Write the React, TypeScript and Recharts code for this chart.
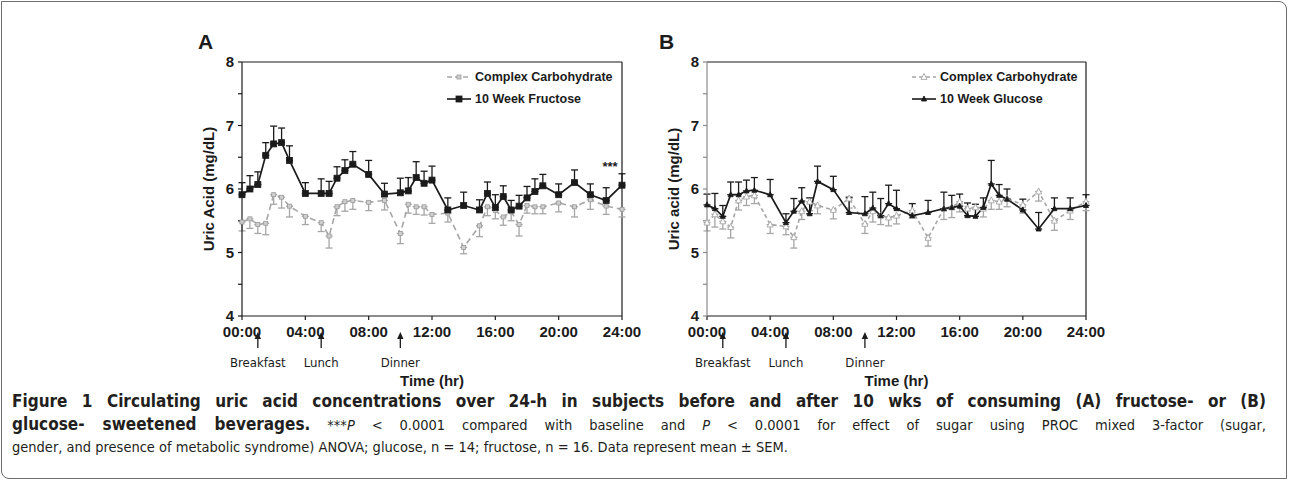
import React from 'react';
import { LineChart, Line, XAxis, YAxis, ErrorBar, ReferenceLine, Legend, LabelList } from 'recharts';

// sampling times (hours after 00:00)
const hours = [0, 0.5, 1, 1.5, 2, 2.5, 3, 4, 5, 5.5, 6, 6.5, 7, 8, 9, 10, 10.5, 11, 11.5, 12, 13, 14, 15, 15.5, 16, 16.5, 17, 17.5, 18, 18.5, 19, 20, 21, 22, 23, 24];

// panel A
const carbA = [5.48, 5.53, 5.44, 5.46, 5.91, 5.87, 5.73, 5.57, 5.47, 5.26, 5.72, 5.8, 5.82, 5.79, 5.82, 5.3, 5.76, 5.72, 5.72, 5.6, 5.62, 5.08, 5.42, 5.72, 5.66, 5.56, 5.64, 5.44, 5.74, 5.72, 5.72, 5.78, 5.72, 5.83, 5.73, 5.68];
const carbASem = [0.14, 0.15, 0.14, 0.18, 0.15, 0.17, 0.17, 0.13, 0.14, 0.19, 0.14, 0.15, 0.14, 0.13, 0.15, 0.16, 0.14, 0.12, 0.13, 0.14, 0.14, 0.1, 0.17, 0.14, 0.13, 0.13, 0.14, 0.18, 0.12, 0.11, 0.11, 0.14, 0.16, 0.15, 0.13, 0.12];
const fructose = [5.91, 6.0, 6.07, 6.53, 6.71, 6.73, 6.45, 5.93, 5.93, 5.93, 6.17, 6.29, 6.39, 6.23, 5.92, 5.94, 5.97, 6.18, 6.09, 6.14, 5.67, 5.74, 5.67, 5.93, 5.71, 5.88, 5.67, 5.73, 5.86, 5.96, 6.05, 5.91, 6.1, 5.91, 5.82, 6.06];
const fructoseSem = [0.19, 0.21, 0.2, 0.2, 0.28, 0.23, 0.23, 0.17, 0.23, 0.19, 0.18, 0.17, 0.2, 0.22, 0.17, 0.23, 0.21, 0.25, 0.19, 0.22, 0.19, 0.21, 0.16, 0.18, 0.2, 0.17, 0.15, 0.17, 0.18, 0.2, 0.18, 0.17, 0.2, 0.17, 0.2, 0.18];

// panel B
const carbB = [5.47, 5.6, 5.49, 5.4, 5.82, 5.88, 5.9, 5.44, 5.41, 5.24, 5.65, 5.8, 5.74, 5.67, 5.85, 5.45, 5.65, 5.58, 5.55, 5.58, 5.66, 5.23, 5.69, 5.71, 5.8, 5.69, 5.71, 5.69, 5.82, 5.8, 5.85, 5.75, 5.96, 5.5, 5.66, 5.8];
const carbBSem = [0.13, 0.2, 0.12, 0.17, 0.15, 0.14, 0.13, 0.14, 0.13, 0.17, 0.13, 0.14, 0.13, 0.14, 0.15, 0.15, 0.17, 0.14, 0.13, 0.13, 0.12, 0.13, 0.17, 0.16, 0.16, 0.13, 0.14, 0.13, 0.14, 0.12, 0.13, 0.13, 0.15, 0.15, 0.14, 0.14];
const glucose = [5.75, 5.69, 5.57, 5.91, 5.91, 5.97, 5.98, 5.91, 5.47, 5.65, 5.81, 5.61, 6.12, 5.99, 5.63, 5.61, 5.7, 5.58, 5.77, 5.69, 5.58, 5.63, 5.69, 5.71, 5.73, 5.58, 5.57, 5.71, 6.08, 5.9, 5.84, 5.67, 5.37, 5.69, 5.69, 5.74];
const glucoseSem = [0.17, 0.24, 0.17, 0.2, 0.2, 0.17, 0.2, 0.24, 0.14, 0.2, 0.21, 0.25, 0.24, 0.21, 0.24, 0.27, 0.25, 0.27, 0.29, 0.29, 0.19, 0.19, 0.26, 0.19, 0.19, 0.2, 0.19, 0.15, 0.37, 0.17, 0.16, 0.17, 0.26, 0.17, 0.17, 0.17];

const timeTicks = [0, 4, 8, 12, 16, 20, 24];
const yTicks = [4, 4.5, 5, 5.5, 6, 6.5, 7, 7.5, 8];
const mealHours = [1, 5, 10];
const mealNames = ['Breakfast', 'Lunch', 'Dinner'];

const FONT = '"Liberation Sans", Arial, Helvetica, sans-serif';
const NARROW = '"DejaVu Sans Condensed", "Liberation Sans", sans-serif';
const INK = '#1b1b1b';
const GREY = '#a6a6a6';

const fmtHour = (v: number) => `${String(v).padStart(2, '0')}:00`;

function squareDot(size: number, fill: string, stroke: string) {
  return (p: any) => {
    const { cx, cy, index } = p;
    if (cx == null || cy == null) return <g key={index} />;
    return <rect key={index} x={cx - size / 2} y={cy - size / 2} width={size} height={size} fill={fill} stroke={stroke} strokeWidth={0.8} />;
  };
}

function triangleDot(size: number, fill: string, stroke: string) {
  return (p: any) => {
    const { cx, cy, index } = p;
    if (cx == null || cy == null) return <g key={index} />;
    const pts = `${cx},${cy - size * 0.6} ${cx - size / 2},${cy + size * 0.4} ${cx + size / 2},${cy + size * 0.4}`;
    return <polygon key={index} points={pts} fill={fill} stroke={stroke} strokeWidth={0.9} />;
  };
}

function MealTick(props: any) {
  const { x, y, payload } = props;
  const i = mealHours.indexOf(payload.value);
  return (
    <g transform={`translate(${x},${y})`}>
      <line x1={0} y1={-2} x2={0} y2={8} stroke={INK} strokeWidth={1.3} />
      <polygon points="0,-8 -3.2,-1 3.2,-1" fill={INK} />
      <text x={0} y={27} textAnchor="middle" fontSize={13} fontFamily={NARROW} fill={INK}>
        {mealNames[i]}
      </text>
    </g>
  );
}

interface PanelProps {
  letter: string;
  yLabel: string;
  ctrl: number[];
  ctrlSem: number[];
  sugar: number[];
  sugarSem: number[];
  sugarName: string;
  triangles: boolean;
  left: number;
  stars: boolean;
  yAxisColor: string;
}

function Panel(p: PanelProps) {
  const rows = hours.map((t, i) => ({
    t,
    ctrl: p.ctrl[i],
    ctrlErr: [p.ctrlSem[i], 0],
    sugar: p.sugar[i],
    sugarErr: [0, p.sugarSem[i]],
  }));
  const ctrlDot = p.triangles ? triangleDot(6, '#fff', GREY) : squareDot(4, '#cfcfcf', '#9a9a9a');
  const sugarDot = p.triangles ? triangleDot(5, INK, INK) : squareDot(6, INK, INK);

  const legendContent = () => (
    <div style={{ fontFamily: FONT, fontWeight: 'bold', fontSize: 12.5, color: INK }}>
      {[
        { name: 'Complex Carbohydrate', color: GREY, dash: p.triangles ? '4 3' : '5 3', dot: ctrlDot },
        { name: p.sugarName, color: INK, dash: undefined, dot: sugarDot },
      ].map((e) => (
        <div key={e.name} style={{ display: 'flex', alignItems: 'center', height: 22, whiteSpace: 'nowrap' }}>
          <svg width={26} height={12} style={{ marginRight: 2 }}>
            <line x1={0} y1={6} x2={24} y2={6} stroke={e.color} strokeWidth={1.6} strokeDasharray={e.dash} />
            {e.dot({ cx: 12, cy: 6, index: 0 })}
          </svg>
          <span>{e.name}</span>
        </div>
      ))}
    </div>
  );

  return (
    <div style={{ position: 'absolute', left: p.left, top: 30 }}>
      <LineChart width={500} height={360} data={rows} margin={{ top: 32, right: p.left > 300 ? 29 : 28, bottom: 0, left: 42 }}>
        <XAxis
          xAxisId="a_time"
          dataKey="t"
          type="number"
          domain={[0, 24]}
          ticks={timeTicks}
          tickFormatter={fmtHour}
          height={24}
          tickSize={4}
          tickMargin={6}
          interval={0}
          stroke={INK}
          strokeWidth={1.2}
          tick={{ fontSize: 15, fontWeight: 'bold', fill: INK, fontFamily: FONT }}
        />
        <XAxis
          xAxisId="b_meal"
          dataKey="t"
          type="number"
          domain={[0, 24]}
          ticks={mealHours}
          height={50}
          tickSize={0}
          tickMargin={0}
          interval={0}
          axisLine={false}
          tickLine={false}
          tick={<MealTick />}
          label={{
            content: (lp: any) => {
              const vb = lp.viewBox;
              return (
                <text x={vb.x + vb.width / 2} y={vb.y + 46} textAnchor="middle" fontSize={15} fontWeight="bold" fontFamily={FONT} fill={INK}>
                  Time (hr)
                </text>
              );
            },
          }}
        />
        <YAxis
          domain={[4, 8]}
          ticks={yTicks}
          interval={0}
          width={50}
          tickSize={4}
          tickMargin={4}
          stroke={p.yAxisColor}
          strokeWidth={1.2}
          tickFormatter={(v: number) => (Number.isInteger(v) ? String(v) : '')}
          tick={{ fontSize: 15, fontWeight: 'bold', fill: INK, fontFamily: FONT }}
          label={{
            content: (lp: any) => {
              const vb = lp.viewBox;
              const cx = vb.x + 16;
              const cy = vb.y + vb.height / 2;
              return (
                <text x={cx} y={cy} transform={`rotate(-90 ${cx} ${cy})`} textAnchor="middle" dominantBaseline="central" fontSize={15} fontWeight="bold" fontFamily={FONT} fill={INK}>
                  {p.yLabel}
                </text>
              );
            },
          }}
        />
        <ReferenceLine xAxisId="a_time" y={8} stroke={INK} strokeWidth={1.2} />
        <ReferenceLine xAxisId="a_time" x={24} stroke={INK} strokeWidth={1.2} />
        <Legend
          layout="horizontal"
          verticalAlign="middle"
          align="center"
          content={legendContent}
          wrapperStyle={{ top: 36, left: 297, width: 200, height: 44 }}
        />
        <Line
          xAxisId="a_time"
          dataKey="ctrl"
          name="Complex Carbohydrate"
          stroke={GREY}
          strokeWidth={1.6}
          strokeDasharray={p.triangles ? '4 3' : '6 4'}
          dot={ctrlDot}
          activeDot={false}
          isAnimationActive={false}
        >
          <ErrorBar dataKey="ctrlErr" direction="y" width={3.5} stroke={GREY} strokeWidth={1.3} />
        </Line>
        <Line
          xAxisId="a_time"
          dataKey="sugar"
          name={p.sugarName}
          stroke={INK}
          strokeWidth={1.7}
          dot={sugarDot}
          activeDot={false}
          isAnimationActive={false}
        >
          <ErrorBar dataKey="sugarErr" direction="y" width={3.5} stroke={INK} strokeWidth={1.3} />
          {p.stars && (
            <LabelList
              dataKey="sugar"
              content={(lp: any) =>
                lp.index === hours.length - 1 ? (
                  <text x={lp.x - 12} y={lp.y - 14} textAnchor="middle" fontSize={13} fontWeight="bold" fontFamily={FONT} fill={INK}>
                    ***
                  </text>
                ) : null
              }
            />
          )}
        </Line>
      </LineChart>
      <div style={{ position: 'absolute', left: p.left > 300 ? 44 : 48, top: 0, fontFamily: FONT, fontWeight: 'bold', fontSize: 21, color: INK }}>
        {p.letter}
      </div>
    </div>
  );
}

export default function App() {
  const cap: React.CSSProperties = {
    position: 'absolute',
    left: 12,
    width: 1254,
    whiteSpace: 'nowrap',
    fontFamily: NARROW,
    fontSize: 14.5,
    color: '#231f20',
    lineHeight: '24px',
  };
  const just: React.CSSProperties = { textAlign: 'justify', textAlignLast: 'justify', whiteSpace: 'normal' };
  return (
    <div style={{ position: 'absolute', left: 0, top: 0, width: 1290, height: 482, background: '#fff', overflow: 'hidden' }}>
      <div style={{ position: 'absolute', left: 1, top: 1, width: 1286, height: 478, border: '1px solid #6d6d6d', borderTopRightRadius: 8, borderBottomLeftRadius: 8, boxSizing: 'border-box' }} />
      <Panel letter="A" yLabel="Uric Acid (mg/dL)" ctrl={carbA} ctrlSem={carbASem} sugar={fructose} sugarSem={fructoseSem} sugarName="10 Week Fructose" triangles={false} left={150} stars={true} yAxisColor={INK} />
      <Panel letter="B" yLabel="Uric acid (mg/dL)" ctrl={carbB} ctrlSem={carbBSem} sugar={glucose} sugarSem={glucoseSem} sugarName="10 Week Glucose" triangles={true} left={615} stars={false} yAxisColor="#8a8a8a" />
      <div style={{ ...cap, ...just, top: 389, fontWeight: 'bold', fontSize: 17 }}>
        Figure 1 Circulating uric acid concentrations over 24-h in subjects before and after 10 wks of consuming (A) fructose- or (B)
      </div>
      <div style={{ ...cap, ...just, top: 412 }}>
        <b style={{ fontSize: 17 }}>glucose- sweetened beverages.</b> ***<i>P</i>&nbsp;&lt;&nbsp;0.0001 compared with baseline and <i>P</i>&nbsp;&lt;&nbsp;0.0001 for effect of sugar using PROC mixed 3-factor (sugar,
      </div>
      <div style={{ ...cap, top: 435 }}>
        gender, and presence of metabolic syndrome) ANOVA; glucose, n&nbsp;=&nbsp;14; fructose, n&nbsp;=&nbsp;16. Data represent mean&nbsp;±&nbsp;SEM.
      </div>
    </div>
  );
}
